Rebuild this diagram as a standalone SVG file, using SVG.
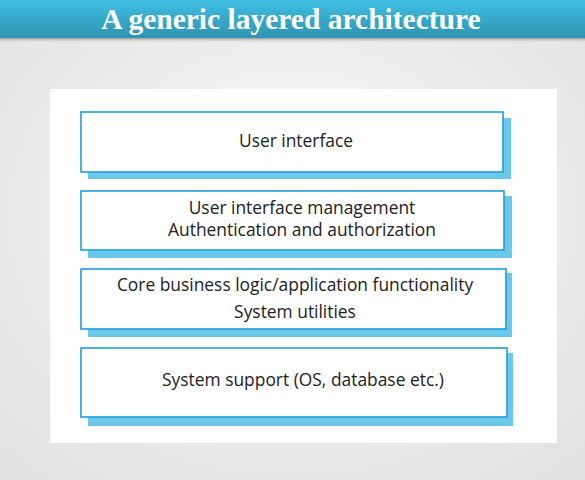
<svg xmlns="http://www.w3.org/2000/svg" width="585" height="480" viewBox="0 0 585 480">
<defs>
<radialGradient id="bg" cx="50%" cy="45%" r="70%">
<stop offset="0" stop-color="#fafafa"/>
<stop offset="1" stop-color="#e2e2e2"/>
</radialGradient>
<linearGradient id="hdr" x1="0" y1="0" x2="0" y2="1">
<stop offset="0" stop-color="#3fbfe4"/>
<stop offset="1" stop-color="#2f93b1"/>
</linearGradient>
<linearGradient id="hsh" x1="0" y1="0" x2="0" y2="1">
<stop offset="0" stop-color="#9a9a9a"/>
<stop offset="1" stop-color="#e8e8e8" stop-opacity="0"/>
</linearGradient>
<style>
.box{fill:#ffffff;stroke:#1ba0dc;stroke-width:1.6}
.sh{fill:#6cc8e9}
.t{font-family:"Open Sans","Noto Sans","DejaVu Sans",sans-serif;font-size:17.4px;fill:#222;text-anchor:middle}
.title{font-family:"Liberation Serif","Times New Roman",serif;font-weight:bold;font-size:29.5px;fill:#ffffff;text-anchor:middle}
</style>
</defs>
<rect width="585" height="480" fill="url(#bg)"/>
<rect x="0" y="38" width="585" height="5" fill="url(#hsh)"/>
<rect x="0" y="0" width="585" height="38" fill="url(#hdr)"/>
<text class="title" x="291" y="29">A generic layered architecture</text>
<rect x="50" y="89" width="507" height="354" fill="#ffffff"/>
<g id="layer1">
<rect class="sh" x="88" y="118" width="423" height="61"/>
<rect class="box" x="81" y="112" width="422" height="60"/>
<text class="t" x="296" y="147">User interface</text>
</g>
<g id="layer2">
<rect class="sh" x="88" y="196" width="424" height="62"/>
<rect class="box" x="81" y="191" width="423" height="59"/>
<text class="t" x="302" y="214">User interface management</text>
<text class="t" x="302" y="236">Authentication and authorization</text>
</g>
<g id="layer3">
<rect class="sh" x="88" y="273" width="424" height="64"/>
<rect class="box" x="81" y="269" width="425" height="60"/>
<text class="t" x="295" y="291">Core business logic/application functionality</text>
<text class="t" x="295" y="318">System utilities</text>
</g>
<g id="layer4">
<rect class="sh" x="88" y="353" width="425" height="73"/>
<rect class="box" x="81" y="348" width="426" height="69"/>
<text class="t" x="303" y="386">System support (OS, database etc.)</text>
</g>
<g id="connectors"></g>
</svg>
